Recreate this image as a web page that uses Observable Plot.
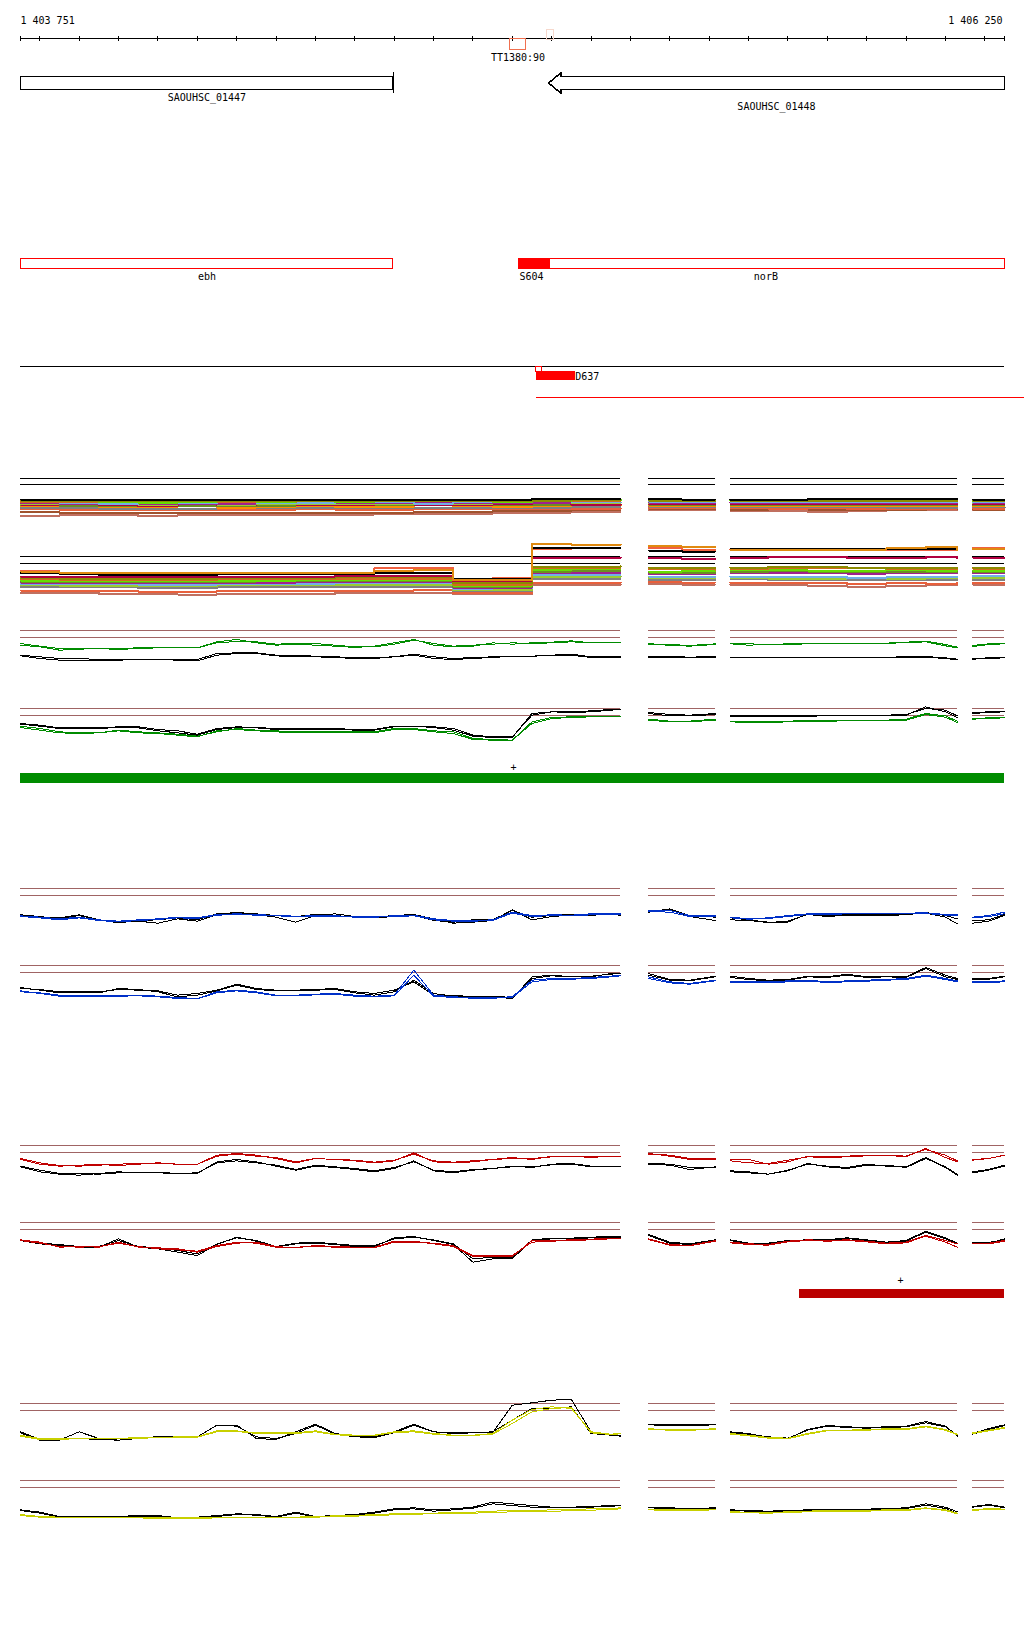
<!DOCTYPE html>
<html><head><meta charset="utf-8">
<script src="https://cdn.jsdelivr.net/npm/d3@7"></script>
<script src="https://cdn.jsdelivr.net/npm/@observablehq/plot@0.6"></script>
<style>
html,body{margin:0;padding:0;background:#fff;}
#chart{position:relative;width:1024px;height:1640px;overflow:hidden;background:#fff;}
#chart svg{position:absolute;left:0;overflow:visible;}
#chart svg path,#chart svg line,#chart svg rect{shape-rendering:crispEdges;}
</style></head><body><div id="chart"></div>
<script>
// ---------- genome window ----------
const START = 1403751, END = 1406250;
const coordLabels = ["1 403 751", "1 406 250"];
const axisTicks = [1403751,1403800,1403900,1404000,1404100,1404200,1404300,1404400,1404500,1404600,1404700,1404800,1404900,1405000,1405100,1405200,1405300,1405400,1405500,1405600,1405700,1405800,1405900,1406000,1406100,1406200,1406250];
// covered segments (gaps between them carry no data)
const segStarts = [1403751, 1405346, 1405554, 1406169];
const segEnds   = [1405275, 1405516, 1406130, 1406250];

// ---------- annotations ----------
const ttName = "TT1380:90", ttStart = 1404993, ttEnd = 1405036;
const faintStart = 1405088, faintEnd = 1405105;
const geneNames = ["SAOUHSC_01447", "SAOUHSC_01448"];
const geneStarts = [1403751, 1405092];
const geneEnds = [1404698, 1406250];
const arrowHeadBp = 32;
const featNames = ["ebh", "norB"];
const featStarts = [1403751, 1405018];
const featEnds = [1404698, 1406250];
const siteName = "S604", siteStart = 1405018, siteEnd = 1405097;
const dName = "D637", dStart = 1405061, dEnd = 1405160, dLineEnd = 1406305;
const greenBarStart = 1403751, greenBarEnd = 1406250, greenPlus = 1405003;
const redBarStart = 1405729, redBarEnd = 1406250, redPlus = 1405986;

// ---------- profile sample positions ----------
const linePos = [1403751,1403800,1403850,1403900,1403950,1404000,1404050,1404100,1404150,1404200,1404250,1404300,1404350,1404400,1404450,1404500,1404550,1404600,1404650,1404700,1404750,1404800,1404850,1404900,1404950,1405000,1405050,1405100,1405150,1405200,1405250,1405275,
 1405346,1405400,1405450,1405516,
 1405554,1405600,1405650,1405700,1405750,1405800,1405850,1405900,1405950,1406000,1406050,1406100,1406130,
 1406169,1406210,1406250];
const multiPos = [1403751,1403850,1403950,1404050,1404150,1404250,1404350,1404450,1404550,1404650,1404750,1404850,1404950,1405050,1405150,1405275,
 1405346,1405430,1405516,
 1405554,1405650,1405750,1405850,1405950,1406050,1406130,
 1406169,1406250];

// thresholds
const multi1Thresholds = [150, 132];
const multi2Thresholds = [150, 130];
const profileThresholds = [150, 129];

// ---------- multi-sample tracks ----------
const m1s1 = [87,86,86,86,86,86,86,86,86,87,87,87,87,88,89,89, 88,87,87, 87,87,88,88,89,88,88, 87,87];
const m1s2 = [84,83,83,82,83,83,84,84,83,83,84,84,83,84,85,85, 84,83,83, 83,84,83,83,84,84,83, 84,84];
const m1s3 = [85,84,80,78,81,86,81,83,79,82,86,82,79,83,87,84, 85,84,84, 84,85,85,84,84,85,84, 82,82];
const m1s4 = [80,79,79,78,80,80,80,82,83,84,83,84,84,82,83,83, 86,86,86, 86,87,87,86,86,84,84, 85,85];
const m1s5 = [81,77,74,79,77,80,78,76,82,79,75,80,79,84,80,78, 81,80,80, 80,81,81,80,81,80,79, 79,79];
const m1s6 = [76,75,74,74,75,75,76,77,78,78,77,78,78,78,79,79, 78,78,77, 78,78,77,78,78,78,77, 78,78];
const m1s7 = [74,73,73,72,73,72,73,74,75,75,74,75,76,76,77,77, 76,76,75, 77,76,76,77,76,77,76, 76,76];
const m1s8 = [72,75,70,68,73,70,74,72,70,75,72,70,73,76,72,74, 74,73,73, 73,73,74,74,73,73,72, 73,73];
const m1s9 = [70,69,68,68,69,68,69,70,71,70,70,71,70,71,72,72, 72,71,71, 71,72,72,71,71,70,70, 71,71];
const m1s10 = [67,69,64,65,68,63,66,69,65,66,70,67,65,68,71,69, 69,68,68, 68,68,69,69,68,68,67, 68,67];
const m1s11 = [62,61,60,60,60,61,62,62,61,61,62,62,63,63,64,64, 66,65,65, 65,64,64,65,63,62,64, 64,63];
const m1s12 = [58,57,56,56,57,56,57,58,57,57,58,58,59,59,60,60, 62,61,62, 62,60,61,59,58,60,61, 60,60];
const m1s13 = [50,48,46,46,46,47,47,47,48,48,50,50,52,52,55,55, 60,58,58, 56,58,57,56,55,58,58, 57,57];
const m1s14 = [38,40,40,38,40,40,42,42,42,44,44,45,46,48,50,50, 55,55,55, 52,52,50,53,55,56,58, 56,56];

const m2s1 = [105,100,100,100,100,100,100,100,100,108,110,80,80,187,186,186, 182,180,178, 170,170,171,171,175,178,170, 172,172];
const m2s2 = [100,98,95,95,95,97,98,98,98,102,102,82,82,175,176,176, 168,165,165, 172,172,173,172,173,172,172, 173,173];
const m2s3 = [108,102,100,100,98,98,98,98,98,115,116,84,85,172,175,175, 175,170,168, 171,170,170,171,171,170,170, 175,175];
const m2s4 = [90,88,88,88,88,88,90,90,92,92,92,76,78,147,147,147, 145,143,142, 145,150,150,145,145,148,146, 147,147];
const m2s5 = [85,84,84,83,83,85,86,86,88,88,88,70,70,120,120,122, 117,115,115, 117,118,118,117,116,116,115, 117,117];
const m2s6 = [82,80,80,80,80,82,83,84,84,84,84,66,66,115,116,116, 112,112,110, 113,115,116,115,114,114,113, 114,114];
const m2s7 = [78,77,77,76,76,78,78,80,80,80,80,63,63,110,112,112, 105,106,106, 110,110,108,108,110,108,108, 108,108];
const m2s8 = [75,74,74,73,73,75,76,77,78,78,78,60,60,105,106,106, 102,101,102, 104,106,105,104,104,105,104, 104,104];
const m2s9 = [72,71,71,70,70,72,72,73,74,74,74,57,57,100,100,100, 98,98,98, 100,100,100,99,100,100,99, 100,100];
const m2s10 = [68,67,67,66,66,68,68,69,70,70,70,54,55,95,95,95, 90,88,88, 90,88,88,86,88,88,87, 92,92];
const m2s11 = [64,63,63,62,62,64,64,65,66,66,66,50,50,88,88,90, 85,85,85, 86,84,84,85,84,85,84, 86,86];
const m2s12 = [58,58,58,56,56,58,58,58,60,60,60,46,46,82,82,82, 80,80,80, 82,80,80,79,80,79,80, 80,80];
const m2s13 = [48,48,46,45,45,46,46,48,48,48,50,40,40,72,72,72, 74,72,72, 72,70,70,68,70,68,70, 70,70];
const m2s14 = [40,40,38,38,36,37,38,38,40,40,40,37,37,66,66,66, 68,66,66, 66,64,62,60,62,64,65, 66,66];

const multiColors = ["#000000","#8b8b00","#66dd00","#d2691e","#70b0e8","#a0208f","#9acd32","#b00040","#6b8e23","#ff8c00","#808080","#e8603c","#a0522d","#c07060"];
const multi2Colors = ["#e08a10","#000000","#f06040","#b00040","#8b8b00","#d2691e","#66dd00","#6b8e23","#a0208f","#70b0e8","#9acd32","#808080","#e8603c","#c07060"];

// ---------- profile tracks ----------
const green1Black1 = [76,71,66,66,63,64,64,64,64,63,81,83,83,76,75,73,71,69,69,71,79,71,66,69,71,73,73,76,79,71,73,73, 73,72,70,72, 70,70,70,70,70,70,70,70,70,71,72,68,64, 66,68,70];
const green1Black2 = [74,66,61,59,61,61,63,63,61,59,76,81,81,74,71,71,69,66,66,71,76,66,63,66,69,73,73,75,76,69,69,69, 70,70,68,70, 68,68,68,68,68,68,68,68,68,69,70,66,62, 64,66,68];
const green1Green1 = [111,103,96,96,96,93,96,98,98,98,113,117,116,109,111,111,106,101,101,109,121,111,103,106,109,113,111,113,116,113,115,115, 110,108,105,110, 112,110,108,110,112,112,110,112,112,115,118,108,100, 105,110,112];
const green1Green2 = [106,101,91,94,96,96,98,98,98,98,116,123,113,106,109,106,103,99,103,113,123,106,101,103,113,109,113,115,119,113,114,114, 108,106,103,108, 110,106,108,108,110,111,110,111,112,113,116,104,98, 102,108,110];

const green2Black1 = [105,100,92,92,92,95,95,87,83,73,90,95,93,90,90,90,90,87,87,97,97,95,90,70,65,65,130,140,140,143,147,147, 138,132,130,135, 130,128,128,128,130,130,130,130,130,132,150,145,128, 138,140,142];
const green2Black2 = [103,97,90,90,90,93,92,83,77,70,87,93,92,87,87,87,88,85,85,95,97,93,85,67,63,63,135,140,138,140,145,147, 135,128,128,132, 127,125,125,126,127,128,128,128,128,130,155,140,122, 135,138,140];
const green2Green1 = [97,90,80,77,77,85,80,77,73,67,80,90,85,83,80,80,80,80,80,90,90,83,80,60,57,55,105,120,123,125,125,125, 118,112,112,118, 112,110,110,112,114,114,115,115,115,118,135,128,112, 120,122,124];
const green2Green2 = [93,85,77,75,77,83,77,75,70,65,83,87,83,80,77,77,77,77,77,87,87,80,75,57,55,55,110,123,125,127,127,127, 115,110,110,115, 110,108,108,110,112,112,113,113,113,115,132,124,108, 118,120,122];

const blue1Black1 = [71,66,59,69,56,47,54,56,62,56,74,76,74,69,66,72,69,64,62,66,70,54,49,56,56,84,64,69,72,72,74,72, 79,89,69,64, 62,56,49,49,74,69,72,72,72,74,78,69,59, 46,52,69];
const blue1Black2 = [69,64,62,71,56,49,52,46,59,52,72,79,72,64,49,69,74,66,64,69,72,59,46,49,54,86,56,66,70,70,72,70, 82,86,66,54, 56,54,48,52,72,66,70,70,68,72,76,64,44, 54,56,72];
const blue1Blue1 = [68,64,59,64,56,52,56,59,64,62,72,74,72,69,67,68,68,66,66,68,70,59,54,54,56,79,69,71,70,74,74,74, 84,84,69,68, 64,59,62,69,74,74,76,76,76,76,77,72,71, 64,69,79];
const blue1Blue2 = [66,62,56,62,54,50,54,57,62,60,70,72,70,68,66,66,67,64,64,66,68,56,52,52,54,76,66,69,68,71,72,72, 81,79,66,66, 62,58,60,66,72,72,74,74,74,74,75,70,69, 62,66,74];

const blue2Black1 = [81,78,71,71,71,78,76,74,61,66,76,94,81,76,76,78,81,71,66,76,101,61,61,56,58,54,111,119,116,116,126,126, 126,108,106,118, 118,111,106,108,118,116,124,116,118,116,144,121,111, 111,111,118];
const blue2Black2 = [84,76,68,68,68,81,78,71,56,61,74,91,78,74,76,76,78,68,61,71,106,66,58,54,56,51,116,121,116,118,124,126, 121,106,104,116, 114,108,104,106,116,114,121,114,116,114,141,116,108, 108,109,116];
const blue2Blue1 = [71,68,61,61,61,61,61,58,54,51,71,76,71,61,61,64,66,61,58,61,136,61,56,54,54,56,106,111,111,114,118,121, 116,101,96,106, 101,101,101,104,106,101,104,106,108,111,121,111,104, 101,101,104];
const blue2Blue2 = [74,66,58,58,58,58,59,56,51,50,68,74,68,59,59,62,64,58,56,59,121,58,54,52,52,54,101,108,109,111,116,119, 111,98,94,104, 98,98,98,101,103,99,101,103,106,108,118,108,101, 98,99,101];

const red1Red1 = [108,94,88,91,93,90,94,98,94,94,118,124,118,114,101,111,108,106,100,106,124,104,100,104,108,114,108,118,116,116,118,118, 124,121,111,111, 108,108,94,101,118,116,118,121,121,118,138,121,104, 108,111,121];
const red1Red2 = [111,98,90,88,91,94,96,96,94,94,121,126,121,111,98,111,108,104,98,104,128,101,98,101,108,111,111,116,118,114,118,118, 126,118,108,108, 104,98,96,106,116,114,116,119,121,116,141,114,101, 106,111,121];
const red1Black1 = [88,76,66,66,64,68,70,70,66,68,98,104,98,91,78,91,86,81,74,84,101,76,71,78,81,88,84,94,96,88,88,88, 96,94,84,84, 74,71,64,74,96,86,81,91,91,84,111,86,64, 71,78,91];
const red1Black2 = [86,71,64,61,66,71,68,68,66,66,101,108,101,88,76,88,84,78,71,81,104,74,68,76,81,86,86,92,94,86,88,88, 94,91,78,86, 71,68,64,76,94,88,84,94,88,86,114,84,61, 68,76,88];

const red2Red1 = [98,91,76,78,76,91,76,74,71,61,78,88,91,78,74,81,78,76,74,91,91,88,81,51,51,51,91,94,96,98,101,101, 101,84,81,96, 91,86,84,94,98,96,98,94,88,91,111,96,86, 88,88,96];
const red2Red2 = [96,88,78,76,78,88,78,71,68,64,81,91,88,76,76,78,76,74,76,94,94,86,78,48,48,48,96,96,98,100,103,103, 99,82,80,94, 89,84,82,92,96,94,96,92,86,89,109,91,76, 86,86,94];
const red2Black1 = [98,88,84,78,78,96,78,74,66,56,86,104,96,78,88,91,86,81,81,101,106,98,86,41,46,44,96,101,101,104,106,106, 114,91,86,98, 98,88,88,96,98,98,104,98,91,96,124,104,88, 91,88,101];
const red2Black2 = [96,86,81,76,76,101,76,71,61,51,84,106,94,76,86,88,84,78,78,104,108,96,84,31,41,41,98,103,103,106,108,108, 111,88,84,96, 96,86,86,94,97,96,102,96,89,94,121,101,86, 89,90,99];

const yellow1Black1 = [65,42,42,45,42,40,48,50,50,50,85,82,50,45,60,85,58,50,48,62,85,65,60,62,65,100,135,135,140,60,55,55, 86,84,84,86, 62,58,50,46,70,82,78,76,78,80,92,80,55, 60,75,86];
const yellow1Black2 = [62,40,40,65,45,40,45,48,50,50,85,85,45,42,65,88,60,52,50,65,88,65,62,62,62,145,152,160,162,65,55,52, 88,86,86,88, 65,60,48,44,72,84,80,78,80,82,96,82,52, 58,72,84];
const yellow1Yellow1 = [55,45,45,45,45,45,48,48,50,50,68,68,62,62,62,68,58,55,55,65,68,60,55,55,60,100,132,140,135,65,58,60, 74,72,72,74, 60,55,48,46,60,70,70,72,74,74,82,72,58, 62,70,78];
const yellow1Yellow2 = [52,42,43,44,44,44,46,47,49,49,65,66,60,60,60,65,56,54,54,63,65,58,54,54,58,90,125,135,138,62,57,59, 72,70,70,72, 58,53,46,44,58,68,68,70,72,72,80,70,56, 60,68,76];

const yellow2Black1 = [62,55,42,42,42,42,45,45,38,40,45,50,48,42,55,42,45,48,55,65,68,62,65,70,85,80,75,70,70,72,75,75, 70,68,66,68, 62,60,58,60,62,64,62,64,66,68,80,70,56, 72,78,70];
const yellow2Black2 = [60,52,40,40,40,42,42,43,36,38,42,48,46,40,52,40,42,46,52,62,65,58,62,67,80,75,70,68,68,70,73,74, 68,66,64,66, 60,58,56,58,60,62,60,62,64,66,76,66,52, 70,76,68];
const yellow2Yellow1 = [48,42,40,40,40,40,40,38,38,38,40,40,40,40,40,42,44,45,48,50,52,52,54,55,58,60,60,62,63,65,66,68, 64,62,62,64, 56,55,54,56,58,60,60,60,62,62,68,62,52, 62,66,64];
const yellow2Yellow2 = [45,40,38,38,38,38,38,36,36,36,38,38,38,38,38,40,42,43,45,47,49,50,51,52,54,56,57,58,59,61,63,65, 62,60,60,62, 54,53,52,54,56,58,58,58,60,60,66,60,50, 60,64,62];

// ---------- colours ----------
const BROWN = "#a06464", GREEN = "#008c00", BLUE = "#0030c8", RED = "#c00000", YELLOW = "#c8d000";
const FONT = "DejaVu Sans Mono";

// ---------- helpers ----------
const chart = document.getElementById("chart");
function segOf(x) { for (let i = 0; i < segStarts.length; i++) if (x >= segStarts[i] && x <= segEnds[i]) return i; return -1; }
function lane(top, height, yDomain, yRange, marks) {
  const svg = Plot.plot({
    width: 1024, height, marginLeft: 20, marginRight: 20, marginTop: 0, marginBottom: 0,
    x: {domain: [START, END], range: [20, 1004], axis: null},
    y: {domain: yDomain, range: yRange, axis: null},
    style: {background: "transparent", overflow: "visible"},
    marks
  });
  svg.style.top = top + "px";
  chart.appendChild(svg);
}
function segRules(values, stroke) {
  const rows = [];
  values.forEach(v => segStarts.forEach((s, i) => rows.push({y: v, x1: s, x2: segEnds[i]})));
  return Plot.ruleY(rows, {y: "y", x1: "x1", x2: "x2", stroke, strokeWidth: 1});
}
function seriesLine(pos, arr, stroke, curve, strokeWidth) {
  const rows = pos.map((x, i) => ({x, y: arr[i], seg: segOf(x)}));
  return Plot.line(rows, {x: "x", y: "y", z: "seg", stroke, curve, strokeWidth});
}
const txt = (data, opts) => Plot.text(data, {fontFamily: FONT, fontSize: 10, fill: "black", ...opts});

// ---------- axis lane ----------
lane(0, 70, [0, 1], [38, 49], [
  Plot.ruleY([0], {x1: START, x2: END, stroke: "black"}),
  Plot.ruleX(axisTicks, {x: d => d, y1: -0.2, y2: 0.25, stroke: "black"}),
  txt([coordLabels[0]], {x: START, y: -1.6, textAnchor: "start"}),
  txt([coordLabels[1]], {x: END, y: -1.6, textAnchor: "end", dx: -2}),
  Plot.rect([0], {x1: ttStart, x2: ttEnd, y1: 0, y2: 1, fill: "none", stroke: "#f07050"}),
  Plot.rect([0], {x1: faintStart, x2: faintEnd, y1: -0.8, y2: 0.15, fill: "none", stroke: "#f6d8cc"}),
  txt([ttName], {x: (ttStart + ttEnd) / 2, y: 1.75})
]);

// ---------- gene lane ----------
const arrowPts = [
  {x: geneStarts[1] + arrowHeadBp, y: 0}, {x: geneEnds[1], y: 0}, {x: geneEnds[1], y: 1},
  {x: geneStarts[1] + arrowHeadBp, y: 1}, {x: geneStarts[1] + arrowHeadBp, y: 1.3},
  {x: geneStarts[1], y: 0.5}, {x: geneStarts[1] + arrowHeadBp, y: -0.3}, {x: geneStarts[1] + arrowHeadBp, y: 0}
];
lane(60, 60, [0, 1], [16, 29], [
  Plot.rect([0], {x1: geneStarts[0], x2: geneEnds[0], y1: 0, y2: 1, fill: "white", stroke: "black"}),
  Plot.ruleX([geneEnds[0]], {x: d => d, y1: -0.3, y2: 1.3, stroke: "black"}),
  Plot.line(arrowPts, {x: "x", y: "y", stroke: "black", fill: "white", curve: "linear"}),
  txt([geneNames[0]], {x: (geneStarts[0] + geneEnds[0]) / 2, y: 1.6}),
  txt([geneNames[1]], {x: (geneStarts[1] + geneEnds[1]) / 2, y: 2.3})
]);

// ---------- feature lane ----------
lane(240, 50, [0, 1], [18, 28], [
  Plot.rect([0, 1], {x1: i => featStarts[i], x2: i => featEnds[i], y1: 0, y2: 1, fill: "white", stroke: "#ff0000"}),
  Plot.rect([0], {x1: siteStart, x2: siteEnd, y1: 0, y2: 1, fill: "#ff0000", stroke: "#ff0000"}),
  txt([featNames[0]], {x: (featStarts[0] + featEnds[0]) / 2, y: 1.8}),
  txt([siteName], {x: siteStart, y: 1.8, textAnchor: "start"}),
  txt([featNames[1]], {x: (featStarts[1] + featEnds[1]) / 2 + 10, y: 1.8})
]);

// ---------- D637 lane ----------
lane(340, 70, [0, 1], [26, 38], [
  Plot.ruleY([0], {x1: START, x2: END, stroke: "black"}),
  Plot.rect([0], {x1: dStart, x2: dStart + 14, y1: 0, y2: 0.42, fill: "white", stroke: "#ff0000"}),
  Plot.rect([0], {x1: dStart, x2: dEnd, y1: 0.42, y2: 1.17, fill: "#ff0000"}),
  txt([dName], {x: dEnd, y: 0.83, textAnchor: "start"}),
  Plot.ruleY([2.58], {x1: dStart, x2: dLineEnd, stroke: "#ff0000"})
]);

// ---------- multi-sample panels ----------
const multi1 = [m1s1,m1s2,m1s3,m1s4,m1s5,m1s6,m1s7,m1s8,m1s9,m1s10,m1s11,m1s12,m1s13,m1s14];
const multi2 = [m2s1,m2s2,m2s3,m2s4,m2s5,m2s6,m2s7,m2s8,m2s9,m2s10,m2s11,m2s12,m2s13,m2s14];
lane(468, 60, [0, 180], [60, 0], [
  segRules(multi1Thresholds, "black"),
  ...multi1.slice().reverse().map((a, i) => seriesLine(multiPos, a, multiColors[multi1.length - 1 - i], "step-after", 2))
]);
lane(546, 60, [0, 180], [60, 0], [
  segRules(multi2Thresholds, "black"),
  ...multi2.slice().reverse().map((a, i) => seriesLine(multiPos, a, multi2Colors[multi2.length - 1 - i], "step-after", 2))
]);

// ---------- profile panels ----------
function profilePanel(top, colour, black1, black2, col1, col2) {
  lane(top, 60, [0, 180], [60, 0], [
    segRules(profileThresholds, BROWN),
    seriesLine(linePos, black2, "black", "linear", 1),
    seriesLine(linePos, black1, "black", "linear", 1),
    seriesLine(linePos, col2, colour, "linear", 1),
    seriesLine(linePos, col1, colour, "linear", 1)
  ]);
}
profilePanel(620, GREEN, green1Black1, green1Black2, green1Green1, green1Green2);
profilePanel(698, GREEN, green2Black1, green2Black2, green2Green1, green2Green2);
profilePanel(878, BLUE, blue1Black1, blue1Black2, blue1Blue1, blue1Blue2);
profilePanel(955, BLUE, blue2Black1, blue2Black2, blue2Blue1, blue2Blue2);
profilePanel(1135, RED, red1Black1, red1Black2, red1Red1, red1Red2);
profilePanel(1212, RED, red2Black1, red2Black2, red2Red1, red2Red2);
profilePanel(1393, YELLOW, yellow1Black1, yellow1Black2, yellow1Yellow1, yellow1Yellow2);
profilePanel(1470, YELLOW, yellow2Black1, yellow2Black2, yellow2Yellow1, yellow2Yellow2);

// ---------- strand bars ----------
lane(755, 35, [0, 1], [18, 28], [
  Plot.rect([0], {x1: greenBarStart, x2: greenBarEnd, y1: 0, y2: 1, fill: GREEN}),
  txt(["+"], {x: greenPlus, y: -0.6})
]);
lane(1270, 35, [0, 1], [19, 28], [
  Plot.rect([0], {x1: redBarStart, x2: redBarEnd, y1: 0, y2: 1, fill: "#bb0000"}),
  txt(["+"], {x: redPlus, y: -1})
]);
</script></body></html>
